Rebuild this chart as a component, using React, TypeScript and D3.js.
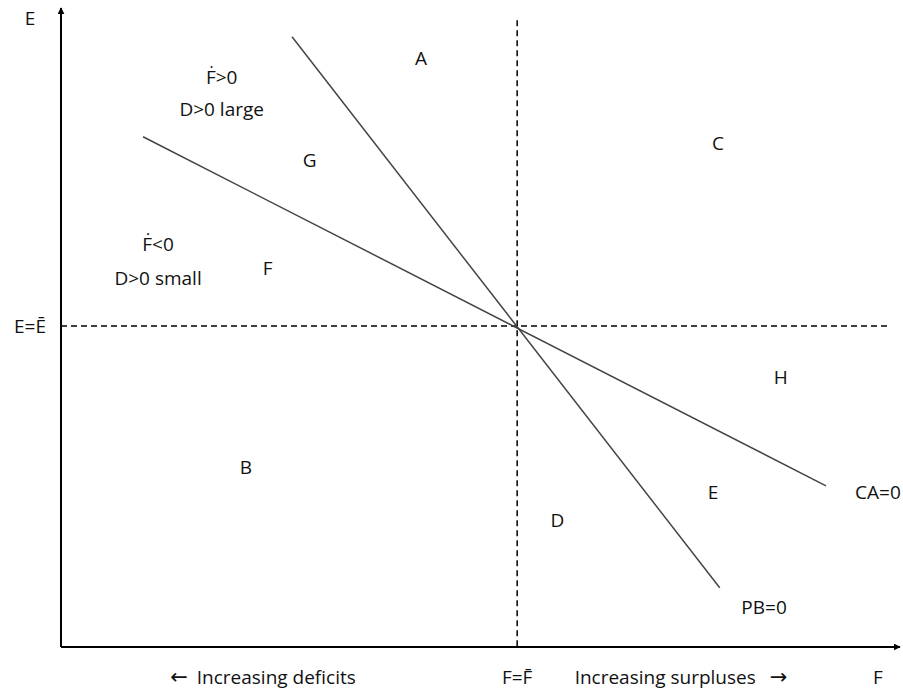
import React from "react";
import * as d3 from "d3";

// Schedule lines in (F, E) units
const caLine: [number, number][] = [[9.8, 80.1], [91.4, 25.3]];
const pbLine: [number, number][] = [[27.6, 95.8], [78.7, 9.3]];

const fBar = 54.5;
const eBar = 50.4;

// region labels: [text, F, E]
const regionLabels: [string, number, number][] = [
  ["A", 43.0, 92.5],
  ["C", 78.5, 79.1],
  ["G", 29.7, 76.4],
  ["F", 24.7, 59.5],
  ["B", 22.1, 28.3],
  ["D", 59.3, 19.9],
  ["E", 77.9, 24.4],
  ["H", 86.0, 42.4],
  ["Ḟ>0", 19.2, 89.5],
  ["D>0 large", 19.2, 84.5],
  ["Ḟ<0", 11.6, 63.3],
  ["D>0 small", 11.6, 58.0],
  ["CA=0", 97.6, 24.4],
  ["PB=0", 84.0, 6.3],
];

export default function App() {
  const width = 903;
  const height = 690;

  const x = d3.scaleLinear().domain([0, 100]).range([61, 898]);
  const y = d3.scaleLinear().domain([0, 100]).range([647, 10]);

  const line = d3.line<[number, number]>()
    .x(d => x(d[0]))
    .y(d => y(d[1]));

  const font = "'Open Sans', 'Noto Sans', sans-serif";
  const arrowFont = "'DejaVu Sans', sans-serif";

  return (
    <svg width={width} height={height} style={{ position: "absolute", left: 0, top: 0 }}>
      <defs>
        <marker id="arrow" viewBox="0 0 10 10" refX="9" refY="5" markerWidth="7" markerHeight="7"
          markerUnits="userSpaceOnUse" orient="auto">
          <path d="M0,0 L10,5 L0,10 z" fill="#000" />
        </marker>
      </defs>
      <rect width={width} height={height} fill="#fff" />

      {/* dashed reference lines */}
      <line x1={x(fBar)} x2={x(fBar)} y1={y(98.4)} y2={y(0)} stroke="#000" strokeWidth={1.5} strokeDasharray="6,4" />
      <line x1={x(0)} x2={x(98.7)} y1={y(eBar)} y2={y(eBar)} stroke="#000" strokeWidth={1.5} strokeDasharray="6,4" />

      {/* axes */}
      <line x1={x(0)} y1={y(0)} x2={x(0)} y2={y(100) - 2} stroke="#000" strokeWidth={2} markerEnd="url(#arrow)" />
      <line x1={x(0)} y1={y(0)} x2={x(100) + 2} y2={y(0)} stroke="#000" strokeWidth={2} markerEnd="url(#arrow)" />

      {/* schedules */}
      <path d={line(caLine) || ""} fill="none" stroke="#444" strokeWidth={1.5} />
      <path d={line(pbLine) || ""} fill="none" stroke="#444" strokeWidth={1.5} />

      <g fontFamily={font} fontSize={19} fill="#111" textAnchor="middle" dominantBaseline="central">
        {regionLabels.map(([t, f, e], i) => (
          <text key={i} x={x(f)} y={y(e)}>{t}</text>
        ))}
        <text x={30} y={18}>E</text>
        <text x={30} y={y(eBar)}>E=Ē</text>
        <text x={x(fBar)} y={677}>F=F̄</text>
        <text x={263} y={677}>
          <tspan fontFamily={arrowFont} fontSize={21}>←</tspan>
          <tspan dx={4}> Increasing deficits</tspan>
        </text>
        <text x={681} y={677}>
          Increasing surpluses
          <tspan fontFamily={arrowFont} fontSize={21} dx={14}>→</tspan>
        </text>
        <text x={878} y={677}>F</text>
      </g>
    </svg>
  );
}
